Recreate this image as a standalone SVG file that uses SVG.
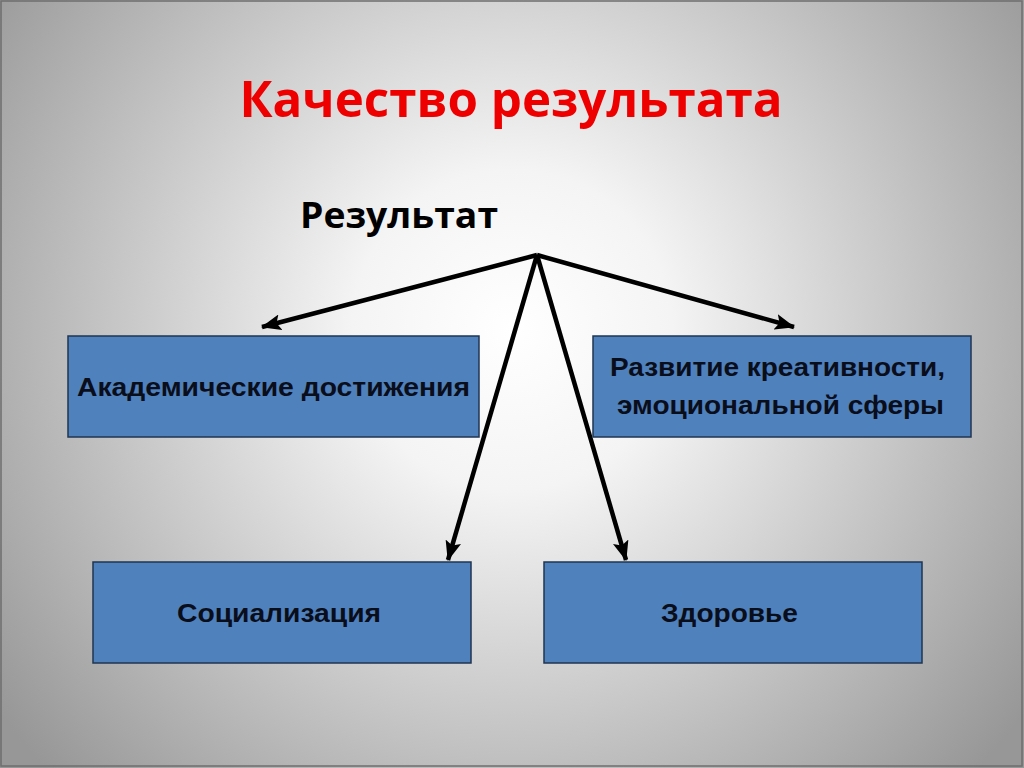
<svg xmlns="http://www.w3.org/2000/svg" width="1024" height="768" viewBox="0 0 1024 768">
<defs>
<radialGradient id="bg" cx="512" cy="330" r="640" gradientUnits="userSpaceOnUse">
<stop offset="0" stop-color="#ffffff"/>
<stop offset="0.25" stop-color="#f4f4f4"/>
<stop offset="1" stop-color="#979797"/>
</radialGradient>
<marker id="ah" viewBox="0 0 20 16" refX="19" refY="8" markerWidth="20" markerHeight="16" markerUnits="userSpaceOnUse" orient="auto">
<path d="M0,0 L20,8 L0,16 L4,8 Z" fill="#000"/>
</marker>
<style>
.box{fill:#4f81bd;stroke:#1f3552;stroke-width:1.5}
.lbl{font-family:"Liberation Sans",Arial,sans-serif;font-weight:bold;font-size:26px;fill:#0a0d1a;text-anchor:middle}
.con{stroke:#000;stroke-width:4.5;fill:none;marker-end:url(#ah)}
</style>
</defs>
<rect x="0" y="0" width="1024" height="768" fill="url(#bg)"/>
<rect x="1" y="1" width="1021" height="765" fill="none" stroke="#6e6e6e" stroke-width="1.5"/>
<text x="511" y="117" font-family="'Open Sans',Calibri,sans-serif" font-weight="bold" font-size="50" fill="#ee0000" text-anchor="middle" textLength="543" lengthAdjust="spacingAndGlyphs">Качество результата</text>
<g id="root"><text x="399" y="228" font-family="'Open Sans',Calibri,sans-serif" font-weight="bold" font-size="36" fill="#000" text-anchor="middle" textLength="198" lengthAdjust="spacingAndGlyphs">Результат</text></g>
<g id="connectors">
<line class="con" x1="537" y1="255" x2="262" y2="327"/>
<line class="con" x1="537" y1="255" x2="794" y2="327"/>
<line class="con" x1="537" y1="255" x2="448" y2="560"/>
<line class="con" x1="537" y1="255" x2="626" y2="560"/>
</g>
<g id="n1"><rect class="box" x="68" y="336" width="411" height="101"/><text class="lbl" x="273.5" y="396" textLength="393" lengthAdjust="spacingAndGlyphs">Академические достижения</text></g>
<g id="n2"><rect class="box" x="593" y="336" width="378" height="101"/><text class="lbl" x="777.5" y="376" textLength="335" lengthAdjust="spacingAndGlyphs">Развитие креативности,</text><text class="lbl" x="780.5" y="414" textLength="327" lengthAdjust="spacingAndGlyphs">эмоциональной сферы</text></g>
<g id="n3"><rect class="box" x="93" y="562" width="378" height="101"/><text class="lbl" x="279" y="622" textLength="204" lengthAdjust="spacingAndGlyphs">Социализация</text></g>
<g id="n4"><rect class="box" x="544" y="562" width="378" height="101"/><text class="lbl" x="729.5" y="622" textLength="137" lengthAdjust="spacingAndGlyphs">Здоровье</text></g>
</svg>
